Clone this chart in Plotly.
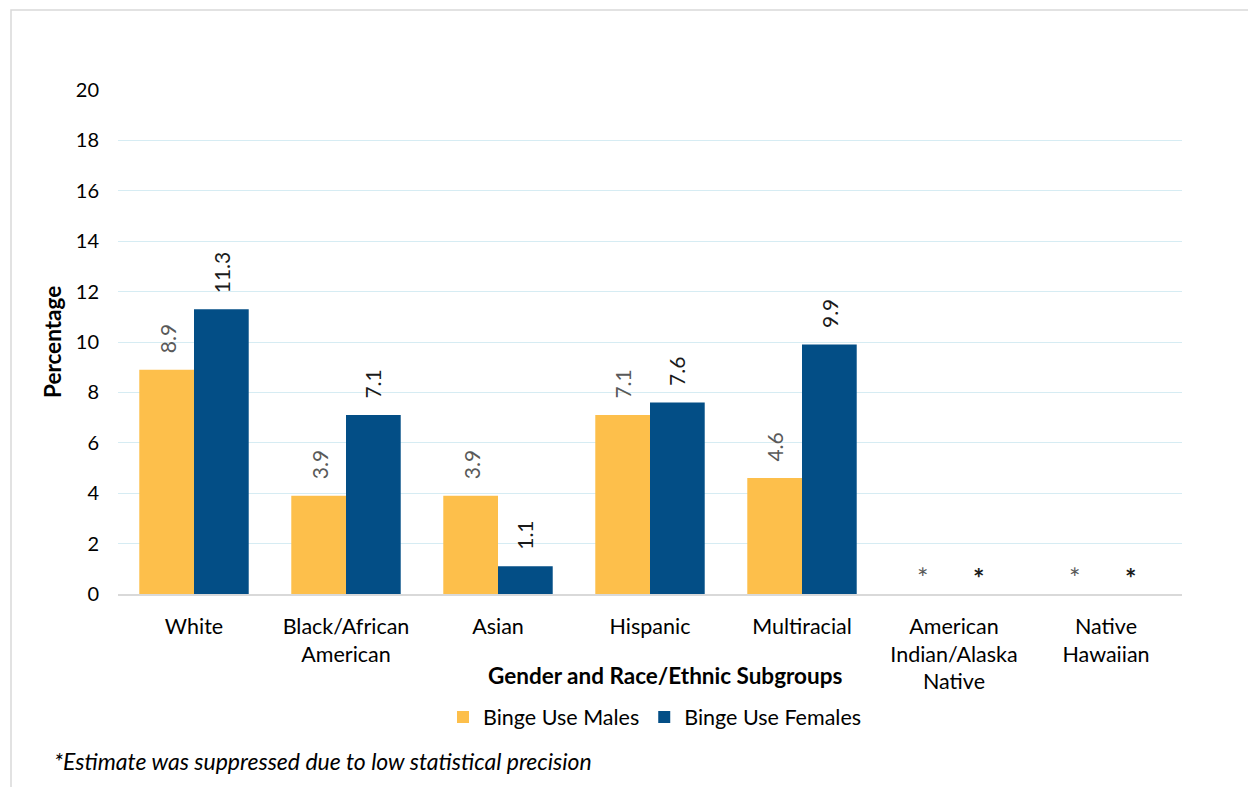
import plotly.graph_objects as go

categories = ["White", "Black/African<br>American", "Asian", "Hispanic", "Multiracial",
              "American<br>Indian/Alaska<br>Native", "Native<br>Hawaiian"]
males = [8.9, 3.9, 3.9, 7.1, 4.6, None, None]
females = [11.3, 7.1, 1.1, 7.6, 9.9, None, None]
y_ticks = [0, 2, 4, 6, 8, 10, 12, 14, 16, 18, 20]

W, H = 1248, 787
L, R, T, B = 118, 1182, 90, 594
FONT = "Lato, Carlito, Calibri, sans-serif"

YELLOW = "#FDBF4B"
BLUE = "#034E86"
GRAY_TXT = "#595959"
DARK_TXT = "#1a1a1a"


def px(x):
    return (x - L) / (R - L)


def py(y):
    return (B - y) / (B - T)


fig = go.Figure()
fig.add_trace(go.Bar(name="Binge Use Males", x=categories, y=males,
                     marker=dict(color=YELLOW, line=dict(width=0))))
fig.add_trace(go.Bar(name="Binge Use Females", x=categories, y=females,
                     marker=dict(color=BLUE, line=dict(width=0))))

annotations = []
# value labels above bars, asterisks where the estimate is suppressed
for series, shift, star_shift, color, bold in ((males, -27, -32, GRAY_TXT, False),
                                               (females, 27, 24, DARK_TXT, True)):
    for cat, v in zip(categories, series):
        if v is None:
            star = "<b>*</b>" if bold else "*"
            annotations.append(dict(x=cat, y=0, xref="x", yref="y", text=star, showarrow=False,
                                    xshift=star_shift, yshift=17, yanchor="middle",
                                    font=dict(family=FONT, size=27, color=color)))
        else:
            annotations.append(dict(x=cat, y=v, xref="x", yref="y", text=f"{v:.1f}",
                                    showarrow=False, textangle=-90, xshift=shift, yshift=14,
                                    yanchor="bottom", xanchor="center",
                                    font=dict(family=FONT, size=21, color=color)))

annotations.append(dict(x=px(665), y=py(675), xref="paper", yref="paper",
                        text="<b>Gender and Race/Ethnic Subgroups</b>", showarrow=False,
                        xanchor="center", yanchor="middle",
                        font=dict(family=FONT, size=22.5, color="#000000")))
annotations.append(dict(x=px(52), y=py(761), xref="paper", yref="paper",
                        text="<i>*Estimate was suppressed due to low statistical precision</i>",
                        showarrow=False, xanchor="left", yanchor="middle",
                        font=dict(family=FONT, size=23, color="#000000")))
annotations.append(dict(x=px(52), y=py(342), xref="paper", yref="paper",
                        text="<b>Percentage</b>", showarrow=False, textangle=-90,
                        xanchor="center", yanchor="middle",
                        font=dict(family=FONT, size=22.5, color="#000000")))

fig.update_layout(
    width=W, height=H,
    margin=dict(l=L, r=W - R, t=T, b=H - B),
    paper_bgcolor="white", plot_bgcolor="white",
    barmode="group", bargap=0.28, bargroupgap=0,
    font=dict(family=FONT, size=21, color="#000000"),
    showlegend=True,
    legend=dict(orientation="h", x=px(655), y=py(717), xanchor="center", yanchor="middle",
                font=dict(family=FONT, size=21.5, color="#000000"),
                itemwidth=30, traceorder="normal"),
    annotations=annotations,
    shapes=[dict(type="rect", xref="paper", yref="paper",
                 x0=px(11), x1=px(1260), y0=py(800), y1=py(10),
                 line=dict(color="#D9D9D9", width=1.5), fillcolor="rgba(0,0,0,0)", layer="below")],
)
fig.update_xaxes(showgrid=False, showline=True, linecolor="#D9D9D9", linewidth=1.5,
                 ticks="", ticklabelstandoff=12,
                 tickfont=dict(family=FONT, size=21.5, color="#000000"),
                 range=[-0.5, 6.5])
fig.update_yaxes(range=[0, 20], tickvals=y_ticks, showgrid=True, gridcolor="#D6ECF3", gridwidth=1,
                 zeroline=False, showline=False, ticks="", ticklabelstandoff=18,
                 tickfont=dict(family=FONT, size=20, color="#000000"))

fig.write_html("out.html")
